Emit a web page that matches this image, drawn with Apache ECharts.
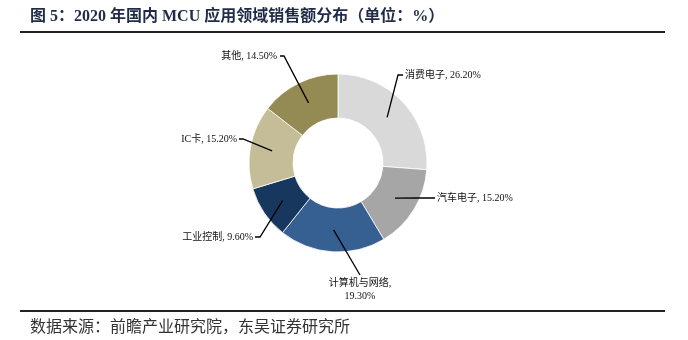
<!DOCTYPE html>
<html><head><meta charset="utf-8">
<script src="https://cdn.jsdelivr.net/npm/echarts@6/dist/echarts.min.js"></script>
<style>html,body{margin:0;padding:0;background:#fff}#c{width:688px;height:340px}</style>
</head><body><div id="c"></div>
<script>
const categories = ['消费电子', '汽车电子', '计算机与网络', '工业控制', 'IC卡', '其他'];
const shares = [26.2, 15.2, 19.3, 9.6, 15.2, 14.5];
const sliceColors = ['#D9D9D9', '#A6A6A6', '#376092', '#17375E', '#C4BD97', '#948A54'];
const titleText = '图 5：2020 年国内 MCU 应用领域销售额分布（单位：%）';
const sourceText = '数据来源：前瞻产业研究院，东吴证券研究所';

const CX = 338, CY = 163, R0 = 45, R1 = 89, RM = (R0 + R1) / 2;
const SERIF = "'Liberation Serif','Times New Roman','Noto Sans CJK SC'";
// label placement (layout only)
const labelSpots = [
  {knee: [398, 75], end: [403, 75], x: 405, y: 75, align: 'left', va: 'middle'},
  {knee: [420, 198], end: [435, 198], x: 437, y: 198, align: 'left', va: 'middle'},
  {knee: [360, 275], end: [360, 275], x: 360, y: 277, align: 'center', va: 'top'},
  {knee: [260, 237], end: [255, 237], x: 253, y: 237, align: 'right', va: 'middle'},
  {knee: [243, 139], end: [239, 139], x: 237, y: 139, align: 'right', va: 'middle'},
  {knee: [284, 56], end: [280, 56], x: 277, y: 56, align: 'right', va: 'middle'}
];

const total = shares.reduce((a, b) => a + b, 0);
function midPoint(i) {
  let cum = 0;
  for (let k = 0; k < i; k++) cum += shares[k];
  const frac = (cum + shares[i] / 2) / total;
  const ang = Math.PI / 2 - frac * Math.PI * 2;
  return [CX + RM * Math.cos(ang), CY - RM * Math.sin(ang)];
}

const pieData = categories.map((c, i) => ({name: c, value: shares[i], itemStyle: {color: sliceColors[i]}}));

const chart = echarts.init(document.getElementById('c'), null, {renderer: 'canvas'});
chart.setOption({
  animation: false,
  backgroundColor: '#fff',
  graphic: [
    {type: 'text', x: 30, y: 17, style: {text: titleText, fontFamily: SERIF, fontWeight: 'bold', fontSize: 16, fill: '#1F2B47', textVerticalAlign: 'middle'}},
    {type: 'line', shape: {x1: 20, y1: 32, x2: 665, y2: 32}, style: {stroke: '#222', lineWidth: 2}},
    {type: 'line', shape: {x1: 20, y1: 311, x2: 665, y2: 311}, style: {stroke: '#222', lineWidth: 2}},
    {type: 'text', x: 30, y: 326, style: {text: sourceText, fontFamily: "'Noto Sans CJK SC'", fontSize: 16, fill: '#333', textVerticalAlign: 'middle'}}
  ],
  series: [{
    type: 'pie',
    z: 2,
    center: [CX, CY],
    radius: [R0, R1],
    startAngle: 90,
    clockwise: true,
    itemStyle: {borderColor: '#fff', borderWidth: 0.8},
    label: {show: false},
    labelLine: {show: false},
    emphasis: {disabled: true},
    data: pieData
  }, {
    type: 'pie',
    z: 5,
    center: [CX, CY],
    radius: [R0, R1],
    startAngle: 90,
    clockwise: true,
    avoidLabelOverlap: false,
    itemStyle: {color: 'rgba(0,0,0,0)', borderWidth: 0},
    label: {
      show: true,
      position: 'outside',
      fontFamily: SERIF,
      fontSize: 10,
      lineHeight: 13,
      color: '#111',
      formatter: p => p.dataIndex === 2
        ? p.name + ',\n' + p.value.toFixed(2) + '%'
        : p.name + ', ' + p.value.toFixed(2) + '%'
    },
    labelLine: {show: true, lineStyle: {color: '#000', width: 1.3}},
    labelLayout: params => {
      const i = params.dataIndex;
      const s = labelSpots[i];
      return {
        x: s.x, y: s.y, align: s.align, verticalAlign: s.va,
        labelLinePoints: [midPoint(i), s.knee, s.end]
      };
    },
    emphasis: {disabled: true},
    data: categories.map((c, i) => ({name: c, value: shares[i]}))
  }]
});
</script>
</body></html>
